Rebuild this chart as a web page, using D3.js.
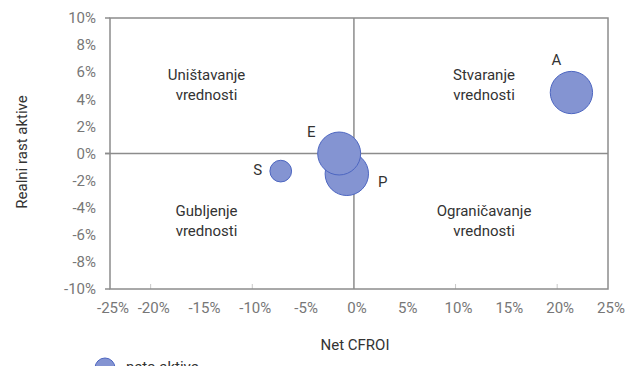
<!DOCTYPE html>
<html>
<head>
<meta charset="utf-8">
<script src="https://cdn.jsdelivr.net/npm/d3@7/dist/d3.min.js"></script>
<style>
  html, body { margin: 0; padding: 0; background: #fff; }
  svg { display: block; font-family: Roboto, "Noto Sans", sans-serif; }
</style>
</head>
<body>
<svg id="chart" width="644" height="366"></svg>
<script>
// ---- data ----
const names = ["A", "S", "P", "E"];
const netCfroi = [0.214, -0.072, -0.007, -0.0145];
const realGrowth = [0.045, -0.013, -0.015, 0.0];
const netAssets = [95, 25, 100, 98];
const xTickValues = [-0.25, -0.2, -0.15, -0.1, -0.05, 0, 0.05, 0.1, 0.15, 0.2, 0.25];
const yTickValues = [-0.1, -0.08, -0.06, -0.04, -0.02, 0, 0.02, 0.04, 0.06, 0.08, 0.1];
const quadrantLabels = [
  ["Uništavanje", "vrednosti"],
  ["Stvaranje", "vrednosti"],
  ["Gubljenje", "vrednosti"],
  ["Ograničavanje", "vrednosti"]
];
const xTitle = "Net CFROI";
const yTitle = "Realni rast aktive";
const legendLabel = "neto aktive";

// ---- layout ----
const svg = d3.select("#chart");
const L = 110, R = 608, T = 18, B = 289;
const x = d3.scaleLinear().domain([-0.24, 0.25]).range([L, R]).clamp(true);
const y = d3.scaleLinear().domain([-0.1, 0.1]).range([B, T]);
const r = d3.scaleSqrt().domain([0, d3.max(netAssets)]).range([0, 21.7]);
const fmt = d => Math.round(d * 100) + "%";
const fill = "#8494d2", stroke = "#4d66c1";
const axisColor = "#8c8c8c";

// x tick marks (inside, every 10%)
svg.append("g").selectAll("line").data([-0.2, -0.1, 0.1, 0.2]).join("line")
  .attr("x1", d => x(d)).attr("x2", d => x(d))
  .attr("y1", B).attr("y2", B - 5)
  .attr("stroke", "#c8c8c8").attr("stroke-width", 1);

// plot border
svg.append("rect").attr("x", L).attr("y", T).attr("width", R - L).attr("height", B - T)
  .attr("fill", "none").attr("stroke", axisColor).attr("stroke-width", 1.5);

// zero lines
svg.append("line").attr("x1", x(0)).attr("x2", x(0)).attr("y1", T).attr("y2", B)
  .attr("stroke", axisColor).attr("stroke-width", 1.5);
svg.append("line").attr("x1", L - 5).attr("x2", R).attr("y1", y(0)).attr("y2", y(0))
  .attr("stroke", axisColor).attr("stroke-width", 1.5);

// y tick marks (outside, every 10%)
svg.append("g").selectAll("line").data([-0.1, 0, 0.1]).join("line")
  .attr("x1", L - 5).attr("x2", L).attr("y1", d => y(d)).attr("y2", d => y(d))
  .attr("stroke", axisColor).attr("stroke-width", 1.5);

// y tick labels
svg.append("g").selectAll("text").data(yTickValues).join("text")
  .attr("x", 96).attr("y", d => y(d)).attr("dy", "0.35em")
  .attr("text-anchor", "end").attr("font-size", 15).attr("fill", "#777")
  .text(d => fmt(d));

// x tick labels
svg.append("g").selectAll("text").data(xTickValues).join("text")
  .attr("x", d => x(d) + 3).attr("y", 313)
  .attr("text-anchor", "middle").attr("font-size", 15).attr("fill", "#777")
  .text(d => fmt(d));

// axis titles
svg.append("text").attr("x", 355).attr("y", 350).attr("text-anchor", "middle")
  .attr("font-size", 15).attr("fill", "#333").text(xTitle);
svg.append("text").attr("transform", "translate(27,152) rotate(-90)")
  .attr("text-anchor", "middle").attr("font-size", 15).attr("fill", "#333").text(yTitle);

// quadrant labels
const qPos = [[-0.145, 0.0546], [0.128, 0.0546], [-0.145, -0.0458], [0.128, -0.0458]];
quadrantLabels.forEach((lines, i) => {
  const t = svg.append("text").attr("text-anchor", "middle").attr("font-size", 15).attr("fill", "#333");
  lines.forEach((ln, j) => {
    t.append("tspan").attr("x", x(qPos[i][0])).attr("y", y(qPos[i][1]) + j * 20.5).text(ln);
  });
});

// bubbles
const pts = names.map((n, i) => ({ n, x: netCfroi[i], y: realGrowth[i], s: netAssets[i] }));
svg.append("g").selectAll("circle").data(pts).join("circle")
  .attr("cx", d => x(d.x)).attr("cy", d => y(d.y)).attr("r", d => r(d.s))
  .attr("fill", fill).attr("stroke", stroke).attr("stroke-width", 1);

// point labels
const labelOff = { A: [-15, -33], S: [-23, -1], P: [36, 8], E: [-28, -22] };
svg.append("g").selectAll("text").data(pts).join("text")
  .attr("x", d => x(d.x) + labelOff[d.n][0]).attr("y", d => y(d.y) + labelOff[d.n][1])
  .attr("dy", "0.35em").attr("text-anchor", "middle").attr("font-size", 15).attr("fill", "#333")
  .text(d => d.n);

// legend (partially visible at bottom, as in the reference)
svg.append("circle").attr("cx", 105).attr("cy", 368).attr("r", 10)
  .attr("fill", fill).attr("stroke", stroke);
svg.append("text").attr("x", 126).attr("y", 372).attr("font-size", 15).attr("fill", "#333")
  .text(legendLabel);
</script>
</body>
</html>
